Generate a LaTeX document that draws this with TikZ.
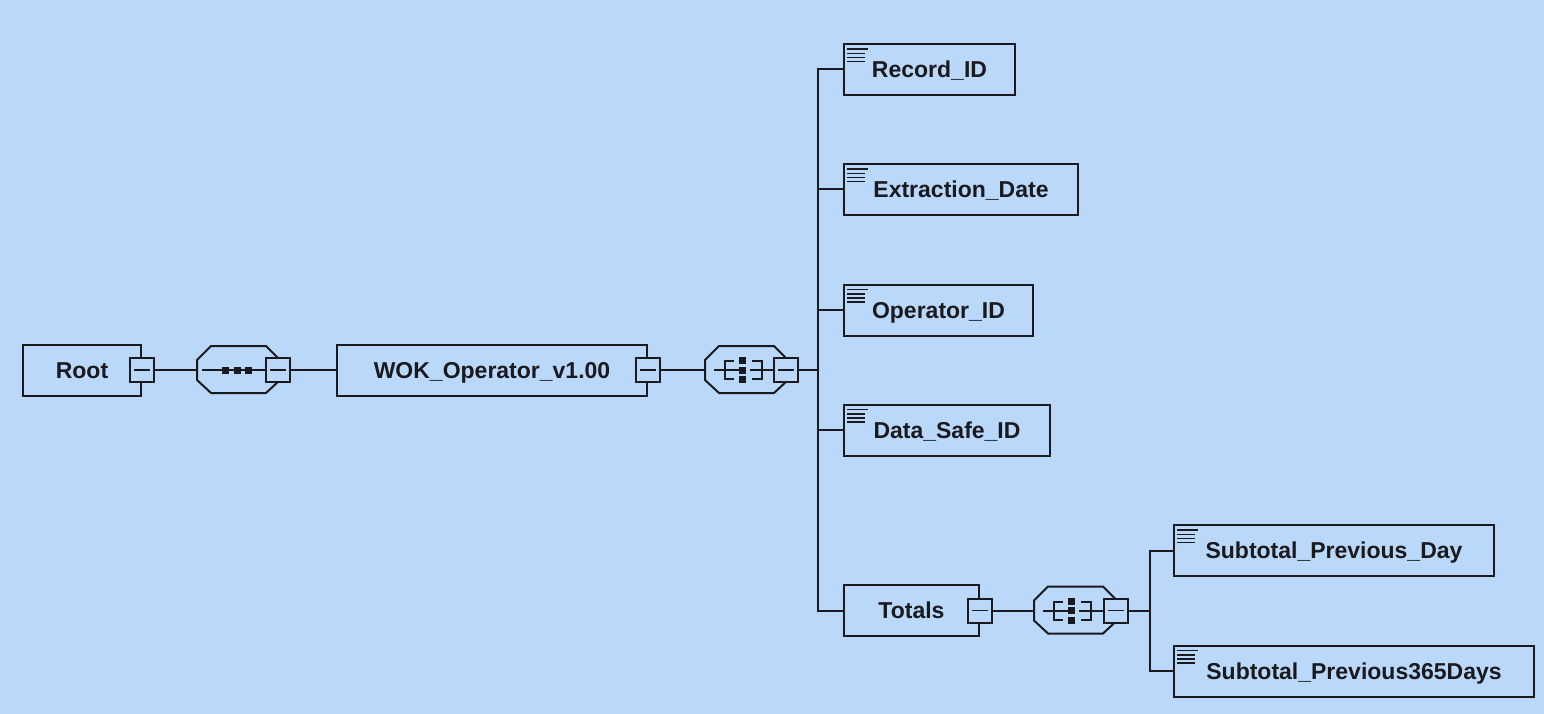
\documentclass[tikz,border=0pt]{standalone}
\usepackage{fontspec}
\setmainfont{Liberation Sans}
\definecolor{bgblue}{RGB}{186,216,250}
\definecolor{ink}{RGB}{25,25,30}
\tikzset{
	elem/.style={draw=ink,line width=2pt,anchor=west,minimum height=51pt,inner sep=0pt,text height=16.5pt,text depth=0pt,text=ink,font=\fontsize{23}{26}\selectfont\bfseries},
	leaf/.style={elem,path picture={\foreach \d/\l in {5/19,9.5/16,13.5/16,17.5/16} \draw[ink,line width=1.6pt] ([xshift=4pt,yshift=-\d pt]path picture bounding box.north west)--++(\l pt,0);}},
	minus/.style={draw=ink,fill=bgblue,line width=2pt,minimum size=24pt,inner sep=0pt,path picture={\draw[ink,line width=1.7pt] ([xshift=5pt]path picture bounding box.west)--([xshift=-5pt]path picture bounding box.east);}},
	comp/.style={anchor=west,minimum width=83pt,minimum height=47pt,inner sep=0pt},
	pics/octa/.style={code={\draw (0,-10)--(0,10)--(14,23)--(69,23)--(83,10)--(83,-10)--(69,-24)--(14,-24)--cycle;}},
	pics/seqmark/.style={code={\draw (6,0)--(69,0);
		\foreach \x in {28,40,51} \fill (\x-3.5,-3.5) rectangle (\x+3.5,3.5);}},
	pics/choicemark/.style={code={\draw (10,0)--(33,0) (46,0)--(69,0);
		\draw (28,-9)--(20,-9)--(20,9)--(28,9) (48,-9)--(57,-9)--(57,9)--(48,9);
		\foreach \y in {-9.5,0,9.5} \fill (34,\y-3.5) rectangle (41,\y+3.5);}}
}
\begin{document}
\begin{tikzpicture}[x=1pt,y=-1pt,line width=2pt,draw=ink,fill=ink,line cap=rect]
	\path[use as bounding box,fill=bgblue] (0,0) rectangle (1544,714);
	% main chain
	\node[elem,minimum width=118pt] (root) at (22,370) {Root};
	\node[minus] (rootm) at (root.east) {};
	\node[comp] (seq) at (197,370) {};
	\pic at (seq.west) {octa}; \pic at (seq.west) {seqmark};
	\node[minus] (seqm) at (278,370) {};
	\node[elem,minimum width=310pt] (wok) at (336,370) {WOK\_Operator\_v1.00};
	\node[minus] (wokm) at (wok.east) {};
	\node[comp] (ch1) at (705,370) {};
	\pic at (ch1.west) {octa}; \pic at (ch1.west) {choicemark};
	\node[minus] (ch1m) at (786,370) {};
	\draw (rootm.east)--(seq.west) (seqm.east)--(wok.west) (wokm.east)--(ch1.west);
	% children of WOK_Operator
	\node[leaf,minimum width=171pt] (rec) at (843,69.5) {Record\_ID};
	\node[leaf,minimum width=234pt] (ext) at (843,189.5) {Extraction\_Date};
	\node[leaf,minimum width=189pt] (opr) at (843,310) {Operator\_ID};
	\node[leaf,minimum width=206pt] (dsafe) at (843,430) {Data\_Safe\_ID};
	\node[elem,minimum width=135pt] (totals) at (843,610.5) {Totals};
	\node[minus] (totm) at (totals.east) {};
	\coordinate (tr1) at (818,370);
	\draw (ch1m.east)--(tr1);
	\foreach \n in {rec,ext,opr,dsafe,totals} \draw (tr1) |- (\n.west);
	% children of Totals
	\node[comp] (ch2) at (1034,610.5) {};
	\pic at (ch2.west) {octa}; \pic at (ch2.west) {choicemark};
	\node[minus] (ch2m) at (1116,610.5) {};
	\draw (totm.east)--(ch2.west);
	\node[leaf,minimum width=320pt] (subday) at (1173,550.5) {Subtotal\_Previous\_Day};
	\node[leaf,minimum width=360pt] (sub365) at (1173,671) {Subtotal\_Previous365Days};
	\coordinate (tr2) at (1150,610.5);
	\draw (ch2m.east)--(tr2);
	\foreach \n in {subday,sub365} \draw (tr2) |- (\n.west);
\end{tikzpicture}
\end{document}
